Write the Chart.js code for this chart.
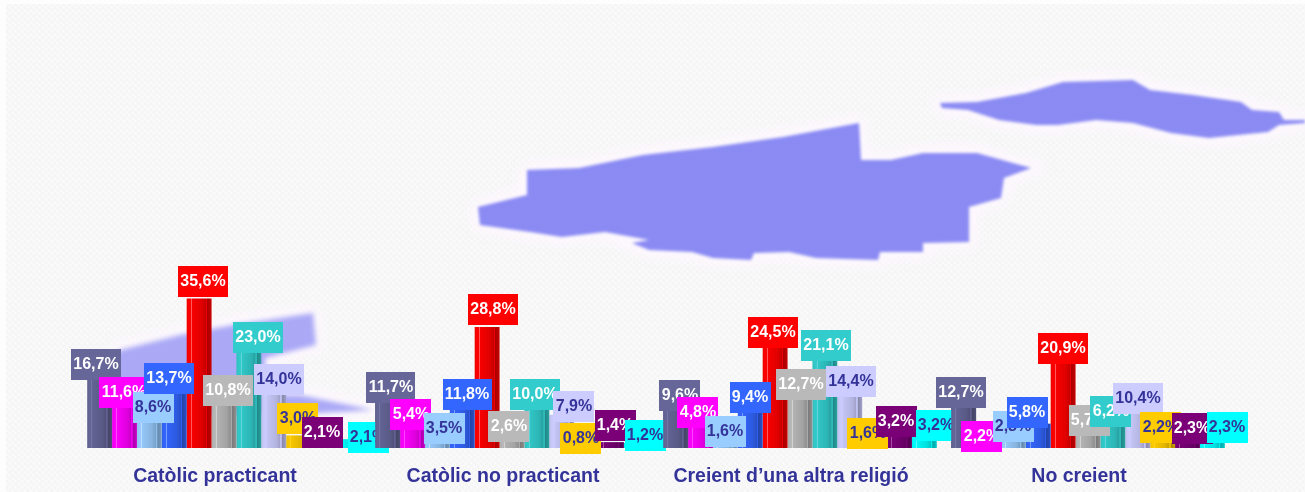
<!DOCTYPE html>
<html>
<head>
<meta charset="utf-8">
<style>
  html, body { margin: 0; padding: 0; background: #fff; }
  canvas { display: block; }
</style>
<script src="https://cdn.jsdelivr.net/npm/chart.js@4"></script>
</head>
<body>
<canvas id="grafic" width="1305" height="492"></canvas>
<script>
const categories = ["Catòlic practicant", "Catòlic no practicant", "Creient d’una altra religió", "No creient"];

const slate = [16.7, 11.7, 9.6, 12.7];
const magenta = [11.6, 5.4, 4.8, 2.2];
const skyBlue = [8.6, 3.5, 1.6, 2.8];
const blue = [13.7, 11.8, 9.4, 5.8];
const red = [35.6, 28.8, 24.5, 20.9];
const grey = [10.8, 2.6, 12.7, 5.7];
const teal = [23.0, 10.0, 21.1, 6.2];
const lavender = [14.0, 7.9, 14.4, 10.4];
const gold = [3.0, 0.8, 1.6, 2.2];
const purple = [2.1, 1.4, 3.2, 2.3];
const cyan = [2.1, 1.2, 3.2, 2.3];

const series = [slate, magenta, skyBlue, blue, red, grey, teal, lavender, gold, purple, cyan];
const colors = ["#666699", "#ff00ff", "#99ccff", "#3366ff", "#ff0000", "#b9b9b9", "#33cccc", "#ccccff", "#ffcc00", "#7b0078", "#00ffff"];
const textColors = ["#fff", "#fff", "#333399", "#fff", "#fff", "#fff", "#fff", "#333399", "#333399", "#fff", "#333399"];

// the boxes were placed by hand in the original, so each one is nudged from its bar
const boxDx = [
    [-4, -1, 4, -5, 4, 4, 9, 5, -1, -1, 20],
    [3, -2, 7, 5, 6, -3.5, -2, 12, -6, 4, 9],
    [4, -3, 0, 0, -2, 1, 1, 1, -7, -3, 12],
    [-3, -7, 0, -11, 0, 1, -2, 0, -2, 5, 15]
];
const boxDy = [
    [2, 9, 11, 3.5, -1.5, 3.4, 1.6, 5.8, -1.4, 8.8, 13.8],
    [4, 5, 11, 12, -2, 5, 4, 7, 9, -1, 8],
    [3, 0, 6, 4.5, 3, 5, 2, 9.5, 8, 2, 6],
    [13, 13, 6, 4, 4, 12, 5, 10, 4, 6, 5]
];

// Background map shapes
const mapMain = [478,207, 527,195, 527,170, 579,168, 643,155, 713,147, 783,137, 859,123, 861,160, 891,160, 923,153, 977,153, 1031,168, 1004,178, 1001,198, 969,207, 969,242, 923,243, 923,252, 880,252, 878,260, 816,258, 789,252, 754,253, 751,260, 713,258, 692,252, 649,250, 632,243, 649,240, 605,232, 562,237, 530,232, 480,225];
const mapEast = [940,103, 977,102, 1026,93, 1063,82, 1133,80, 1150,90, 1193,95, 1241,102, 1252,110, 1279,112, 1284,120, 1305,120, 1305,123, 1279,125, 1268,132, 1209,138, 1171,133, 1133,123, 1096,120, 1058,125, 1036,125, 999,120, 968,110, 942,108];
const mapWest = [100,375, 120,350, 180,335, 233,325, 313,313, 316,345, 265,358, 265,395, 300,395, 373,410, 340,412, 280,415, 200,415, 150,420, 100,400];

function shade(hex, f) {
    const n = parseInt(hex.slice(1), 16);
    const c = [n >> 16, (n >> 8) & 255, n & 255].map(v => f <= 1 ? v * f : v + (255 - v) * (f - 1));
    return "rgb(" + c.map(Math.round).join(",") + ")";
}

function tile(w, h, paint) {
    const t = document.createElement("canvas");
    t.width = w;
    t.height = h;
    paint(t.getContext("2d"));
    return t;
}

function tracePoly(ctx, pts) {
    ctx.beginPath();
    ctx.moveTo(pts[0], pts[1]);
    for (let i = 2; i < pts.length; i += 2) ctx.lineTo(pts[i], pts[i + 1]);
    ctx.closePath();
}

const mapBackground = {
    id: "mapBackground",
    beforeDraw(chart) {
        const ctx = chart.ctx;
        ctx.save();
        ctx.fillStyle = "#fdfdfd";
        ctx.fillRect(0, 0, 1305, 492);
        const paper = tile(6, 6, t => {
            t.fillStyle = "#f8f8f8";
            t.fillRect(0, 0, 6, 6);
            t.fillStyle = "#f5f5f5";
            t.fillRect(0, 0, 2, 3);
            t.fillRect(3, 3, 2, 3);
            t.fillStyle = "#fcfcfc";
            t.fillRect(3, 0, 1, 2);
            t.fillRect(0, 4, 1, 2);
        });
        ctx.fillStyle = ctx.createPattern(paper, "repeat");
        ctx.fillRect(6, 4, 1299, 488);

        const speck = tile(4, 4, t => {
            t.fillStyle = "#8c8cf6";
            t.fillRect(0, 0, 4, 4);
            t.fillStyle = "#7f7fe0";
            t.fillRect(0, 0, 1, 1);
            t.fillRect(2, 2, 1, 1);
        });
        const bluePattern = ctx.createPattern(speck, "repeat");
        const halo = tile(5, 5, t => {
            t.fillStyle = "#fffaff";
            t.fillRect(0, 0, 5, 5);
            t.fillStyle = "#e4e0fa";
            t.fillRect(1, 1, 1, 1);
            t.fillStyle = "#f6dcf6";
            t.fillRect(3, 3, 1, 1);
        });
        const haloPattern = ctx.createPattern(halo, "repeat");

        // speckled halo round the shapes, then the shapes themselves
        ctx.filter = "blur(7px)";
        ctx.fillStyle = haloPattern;
        [mapMain, mapEast, mapWest].forEach(pts => {
            tracePoly(ctx, pts);
            ctx.lineWidth = 14;
            ctx.strokeStyle = haloPattern;
            ctx.stroke();
            ctx.fill();
        });
        ctx.filter = "blur(1.6px)";
        ctx.fillStyle = bluePattern;
        tracePoly(ctx, mapMain);
        ctx.fill();
        tracePoly(ctx, mapEast);
        ctx.fill();
        ctx.globalAlpha = 0.72;
        ctx.filter = "blur(2.5px)";
        tracePoly(ctx, mapWest);
        ctx.fill();
        ctx.restore();
    }
};

// Cylinder look: stripes across each bar
const stripes = [[0, .94], [.17, 1], [.18, 1.35], [.2, 1.35], [.21, .97], [.6, .88], [.76, .78], [.77, .95], [.82, .9], [.83, .66], [.92, .72], [1, .8]];

const cylinders = {
    id: "cylinders",
    beforeDatasetsDraw(chart) {
        chart.data.datasets.forEach((ds, i) => {
            chart.getDatasetMeta(i).data.forEach(bar => {
                const half = bar.width / 2;
                const g = chart.ctx.createLinearGradient(bar.x - half, 0, bar.x + half, 0);
                stripes.forEach(s => g.addColorStop(s[0], shade(colors[i], s[1])));
                bar.options = { ...bar.options, backgroundColor: g };
            });
        });
    }
};

const valueBoxes = {
    id: "valueBoxes",
    afterDatasetsDraw(chart) {
        const ctx = chart.ctx;
        ctx.save();
        ctx.font = "bold 16px 'Liberation Sans'";
        ctx.textAlign = "center";
        ctx.textBaseline = "middle";
        categories.forEach((c, g) => {
            // first bar of a group sits over the last box of the group before it
            if (g > 0) chart.getDatasetMeta(0).data[g].draw(ctx);
            series.forEach((values, s) => {
                const bar = chart.getDatasetMeta(s).data[g];
                const txt = values[g].toFixed(1).replace(".", ",") + "%";
                const w = Math.round(ctx.measureText(txt).width) + 5;
                const cx = bar.x + boxDx[g][s];
                const bottom = bar.y + boxDy[g][s];
                ctx.fillStyle = colors[s];
                ctx.fillRect(Math.round(cx - w / 2), Math.round(bottom - 31), w, 31);
                ctx.fillStyle = textColors[s];
                ctx.fillText(txt, Math.round(cx), Math.round(bottom - 15));
            });
        });
        ctx.restore();
    }
};

new Chart(document.getElementById("grafic"), {
    type: "bar",
    data: {
        labels: categories,
        datasets: series.map((values, i) => ({
            data: values,
            backgroundColor: colors[i]
        }))
    },
    options: {
        responsive: false,
        animation: false,
        layout: { padding: { left: 80, right: 73, top: 28, bottom: 0 } },
        plugins: { legend: { display: false }, tooltip: { enabled: false } },
        datasets: { bar: { categoryPercentage: 0.95, barPercentage: 1 } },
        scales: {
            x: {
                afterFit(axis) { axis.height = 44; },
                grid: { display: false, drawTicks: false },
                border: { display: false },
                ticks: {
                    autoSkip: false,
                    maxRotation: 0,
                    padding: 17,
                    labelOffset: -9,
                    color: "#333399",
                    font: { family: "'Liberation Sans'", weight: "bold", size: 19.5 }
                }
            },
            y: { display: false, min: 0, max: 100 }
        }
    },
    plugins: [mapBackground, cylinders, valueBoxes]
});
</script>
</body>
</html>
